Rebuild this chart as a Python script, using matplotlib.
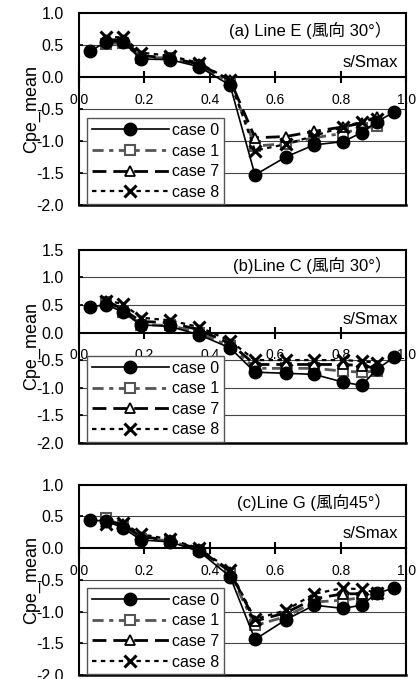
import matplotlib
matplotlib.use("Agg")
import matplotlib.pyplot as plt

plt.rcParams['font.family'] = ['Liberation Sans', 'Noto Sans CJK JP', 'DejaVu Sans']
plt.rcParams['font.size'] = 10

# s/Smax positions (case 0 has the two end points too)
x_all = [0.034, 0.083, 0.134, 0.19, 0.278, 0.367, 0.462, 0.538, 0.632, 0.719, 0.807, 0.864, 0.91, 0.963]
x_mid = x_all[1:13]

# (a) Line E, wind 30 deg
a_case0 = [0.40, 0.55, 0.55, 0.28, 0.27, 0.16, -0.13, -1.53, -1.25, -1.06, -1.01, -0.87, -0.70, -0.55]
a_case1 = [0.52, 0.53, 0.30, 0.30, 0.18, -0.08, -1.08, -1.04, -0.95, -0.88, -0.80, -0.77]
a_case7 = [0.58, 0.58, 0.33, 0.30, 0.20, -0.05, -0.95, -0.93, -0.85, -0.78, -0.72, -0.62]
a_case8 = [0.62, 0.62, 0.38, 0.33, 0.22, -0.05, -1.15, -1.05, -0.92, -0.78, -0.70, -0.65]

# (b) Line C, wind 30 deg
b_case0 = [0.47, 0.50, 0.38, 0.14, 0.11, -0.04, -0.28, -0.72, -0.74, -0.76, -0.90, -0.96, -0.67, -0.45]
b_case1 = [0.55, 0.38, 0.14, 0.13, 0.00, -0.25, -0.65, -0.65, -0.65, -0.70, -0.72, -0.70]
b_case7 = [0.58, 0.42, 0.20, 0.18, 0.05, -0.20, -0.58, -0.58, -0.58, -0.58, -0.60, -0.65]
b_case8 = [0.58, 0.52, 0.27, 0.22, 0.10, -0.15, -0.50, -0.50, -0.50, -0.50, -0.52, -0.55]

# (c) Line G, wind 45 deg
c_case0 = [0.44, 0.43, 0.32, 0.13, 0.10, -0.05, -0.45, -1.44, -1.13, -0.90, -0.95, -0.90, -0.71, -0.63]
c_case1 = [0.47, 0.35, 0.15, 0.12, -0.03, -0.40, -1.22, -1.08, -0.85, -0.82, -0.78, -0.72]
c_case7 = [0.42, 0.38, 0.18, 0.13, -0.02, -0.37, -1.15, -1.02, -0.80, -0.72, -0.72, -0.70]
c_case8 = [0.38, 0.40, 0.22, 0.14, 0.00, -0.35, -1.12, -0.98, -0.72, -0.63, -0.65, -0.70]

panels = [
    ("(a) Line E (風向 30°）", 1.0, [a_case0, a_case1, a_case7, a_case8], [0.698, 0.981]),
    ("(b)Line C (風向 30°）", 1.5, [b_case0, b_case1, b_case7, b_case8], [0.348, 0.632]),
    ("(c)Line G (風向45°）", 1.0, [c_case0, c_case1, c_case7, c_case8], [0.006, 0.286]),
]

xticks = [0.0, 0.2, 0.4, 0.6, 0.8, 1.0]

fig = plt.figure(figsize=(4.2, 6.79), dpi=100)

for title, ytop, series, (bot, top) in panels:
    ax = fig.add_axes([0.188, bot, 0.779, top - bot])
    case0, case1, case7, case8 = series

    ax.plot(x_all, case0, color="black", lw=1.2, marker="o", ms=9,
            mfc="black", mec="black", label="case 0", zorder=5)
    ax.plot(x_mid, case1, color="#555555", lw=2.0, dashes=(4, 2, 1.5, 2), marker="s",
            ms=7.5, mfc="white", mec="#555555", mew=1.5, label="case 1", zorder=4)
    ax.plot(x_mid, case7, color="black", lw=2.0, dashes=(5, 2.5), marker="^",
            ms=7.5, mfc="white", mec="black", mew=1.3, label="case 7", zorder=4)
    ax.plot(x_mid, case8, color="black", lw=1.6, dashes=(2, 2), marker="x",
            ms=8.5, mec="black", mew=2.2, label="case 8", zorder=4)

    ax.set_xlim(0, 1.0)
    ax.set_ylim(-2.0, ytop)
    yt = [v / 2 for v in range(-4, int(ytop * 2) + 1)]
    ax.set_yticks(yt)
    ax.set_yticklabels([f"{v:.1f}" for v in yt])
    ax.set_xticks(xticks)
    ax.set_xticklabels([f"{v:.1f}" for v in xticks], fontsize=12)

    # horizontal grid
    for v in yt:
        if v != 0 and v != -2.0 and v != ytop:
            ax.axhline(v, color="#444444", lw=0.8, zorder=1)

    # x axis drawn through zero, frame kept around
    ax.spines["bottom"].set_position(("data", 0))
    ax.axhline(-2.0, color="black", lw=1.8, zorder=6, clip_on=False)
    for s in ["left", "right", "top", "bottom"]:
        ax.spines[s].set_linewidth(1.5)
    ax.tick_params(axis="x", direction="inout", length=9, width=1.5, pad=7)
    ax.tick_params(axis="y", direction="in", length=3, width=1.2, labelsize=11.5, pad=11)

    ax.set_ylabel("Cpe_mean", fontsize=13, labelpad=-3)

    ax.text(0.955, ytop - 0.28, title, ha="right", va="center", fontsize=12)
    ax.text(0.975, 0.23, "s/Smax", ha="right", va="center", fontsize=12)

    leg = ax.legend(loc="lower left", bbox_to_anchor=(0.025, 0.003), borderaxespad=0,
                    handlelength=4.8, labelspacing=0.35, handletextpad=0.2,
                    borderpad=0.3, fancybox=False, framealpha=1, fontsize=11.5)
    leg.get_frame().set_edgecolor("#555555")
    leg.get_frame().set_linewidth(1.0)
    leg.set_zorder(10)

fig.savefig("out.png", dpi=100)
